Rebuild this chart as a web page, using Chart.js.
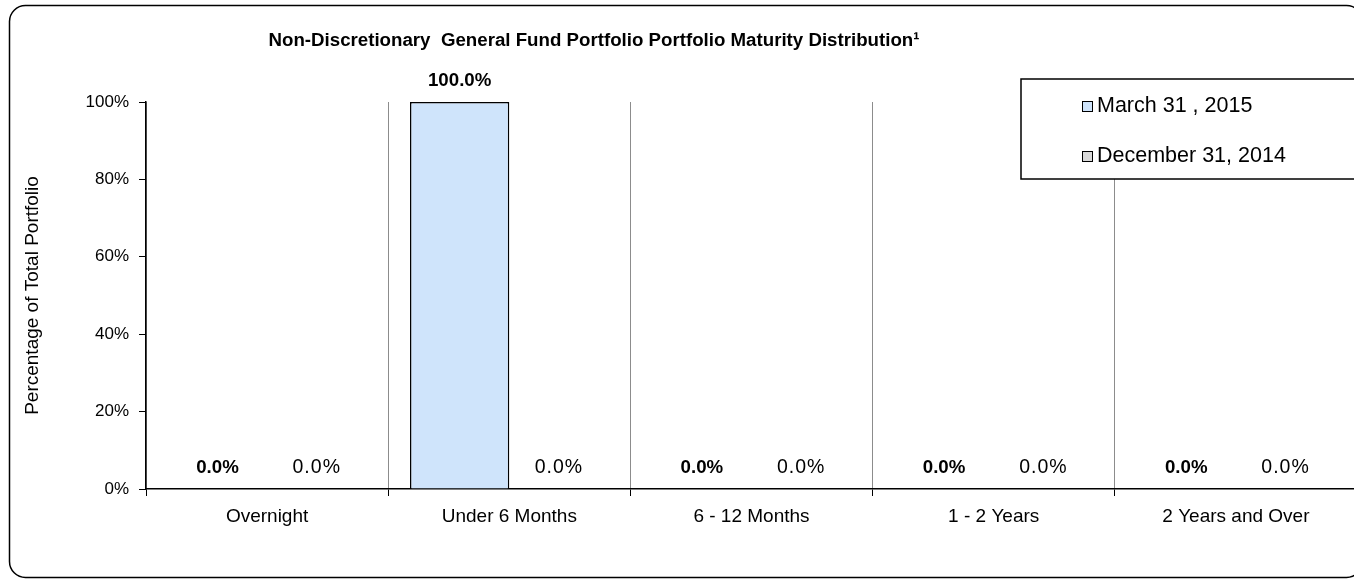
<!DOCTYPE html>
<html>
<head>
<meta charset="utf-8">
<script src="https://cdn.jsdelivr.net/npm/chart.js@4"></script>
<style>
  html, body { margin: 0; padding: 0; background: #fff; overflow: hidden; }
  #wrap { width: 1370px; height: 579px; }
</style>
</head>
<body>
<div id="wrap"><canvas id="maturity"></canvas></div>
<script>
const categories = ['Overnight', 'Under 6 Months', '6 - 12 Months', '1 - 2 Years', '2 Years and Over']
const march_2015 = [0.0, 100.0, 0.0, 0.0, 0.0]
const december_2014 = [0.0, 0.0, 0.0, 0.0, 0.0]
const series_labels = ['March 31 , 2015', 'December 31, 2014']
const y_ticks = [0, 20, 40, 60, 80, 100]

const chart_title = 'Non-Discretionary  General Fund Portfolio Portfolio Maturity Distribution\u00b9'
const y_title = 'Percentage of Total Portfolio'

const FONT = '"Liberation Sans", Arial, sans-serif'
const colors = ['#cfe4fb', '#d9d9d9']

const decorations = {
    id: 'decorations',
    beforeDraw: (chart) => {
        const { ctx } = chart
        ctx.save()
        ctx.fillStyle = '#fff'
        ctx.fillRect(0, 0, chart.width, chart.height)
        // outer rounded frame
        ctx.beginPath()
        ctx.roundRect(9.5, 5.5, 1353, 572, 16)
        ctx.lineWidth = 1.5
        ctx.strokeStyle = '#000'
        ctx.stroke()
        ctx.restore()
    },
    afterDraw: (chart) => {
        const { ctx, chartArea } = chart
        ctx.save()
        // title
        ctx.fillStyle = '#000'
        ctx.font = 'bold 18.7px ' + FONT
        ctx.textAlign = 'center'
        ctx.textBaseline = 'middle'
        ctx.fillText(chart_title, 594, 41)

        // y axis title
        ctx.save()
        ctx.translate(33, (chartArea.top + chartArea.bottom) / 2)
        ctx.rotate(-Math.PI / 2)
        ctx.font = '19px ' + FONT
        ctx.fillText(y_title, 0, 0)
        ctx.restore()

        // legend box
        ctx.fillStyle = '#fff'
        ctx.fillRect(1021, 79, 400, 100)
        ctx.lineWidth = 1.5
        ctx.strokeStyle = '#000'
        ctx.strokeRect(1021, 79, 400, 100)
        ctx.font = '21.5px ' + FONT
        ctx.textAlign = 'left'
        const rows = [106, 156]
        series_labels.forEach((label, i) => {
            const y = rows[i]
            ctx.fillStyle = colors[i]
            ctx.fillRect(1082, y - 5, 11, 11)
            ctx.lineWidth = 1
            ctx.strokeStyle = '#000'
            ctx.strokeRect(1082.5, y - 4.5, 10, 10)
            ctx.fillStyle = '#000'
            ctx.fillText(label, 1097, y)
        })
        ctx.restore()
    },
    afterDatasetsDraw: (chart) => {
        const { ctx } = chart
        ctx.save()
        ctx.fillStyle = '#000'
        ctx.textAlign = 'center'
        ctx.textBaseline = 'bottom'
        chart.data.datasets.forEach((ds, i) => {
            const meta = chart.getDatasetMeta(i)
            ctx.font = (i === 0 ? 'bold 18.7px ' : '19.5px ') + FONT
            ctx.letterSpacing = i === 0 ? '0px' : '1px'
            meta.data.forEach((bar, j) => {
                ctx.fillText(ds.data[j].toFixed(1) + '%', bar.x, bar.y - 12)
            })
        })
        ctx.restore()
    }
}

new Chart(document.getElementById('maturity'), {
    type: 'bar',
    data: {
        labels: categories,
        datasets: [
            {
                label: series_labels[0],
                data: march_2015,
                backgroundColor: colors[0],
                borderColor: '#000',
                borderWidth: 1.5,
            },
            {
                label: series_labels[1],
                data: december_2014,
                backgroundColor: colors[1],
                borderColor: '#000',
                borderWidth: 1.5,
            }
        ]
    },
    options: {
        responsive: true,
        maintainAspectRatio: false,
        animation: false,
        categoryPercentage: 0.82,
        barPercentage: 1.0,
        layout: {
            padding: { left: 0, right: 13, top: 102, bottom: 0 }
        },
        plugins: {
            legend: { display: false },
            title: { display: false },
            tooltip: { enabled: false },
        },
        scales: {
            x: {
                offset: true,
                grid: {
                    offset: true,
                    color: '#8c8c8c',
                    lineWidth: 1,
                    tickColor: '#000',
                    tickLength: 7,
                },
                border: { color: '#000', width: 1.5 },
                ticks: {
                    color: '#000',
                    font: { family: FONT, size: 19 },
                    padding: 9,
                    maxRotation: 0,
                    autoSkip: false,
                },
                afterFit: (scale) => { scale.height = 90 },
            },
            y: {
                min: 0,
                max: 100,
                afterBuildTicks: (scale) => { scale.ticks = y_ticks.map(v => ({ value: v })) },
                grid: {
                    drawOnChartArea: false,
                    tickColor: '#000',
                    tickLength: 7,
                },
                border: { color: '#000', width: 1.5 },
                ticks: {
                    color: '#000',
                    font: { family: FONT, size: 17 },
                    padding: 10,
                    callback: (v) => v + '%',
                },
                afterFit: (scale) => { scale.width = 146 },
            }
        }
    },
    plugins: [decorations],
})
</script>
</body>
</html>
